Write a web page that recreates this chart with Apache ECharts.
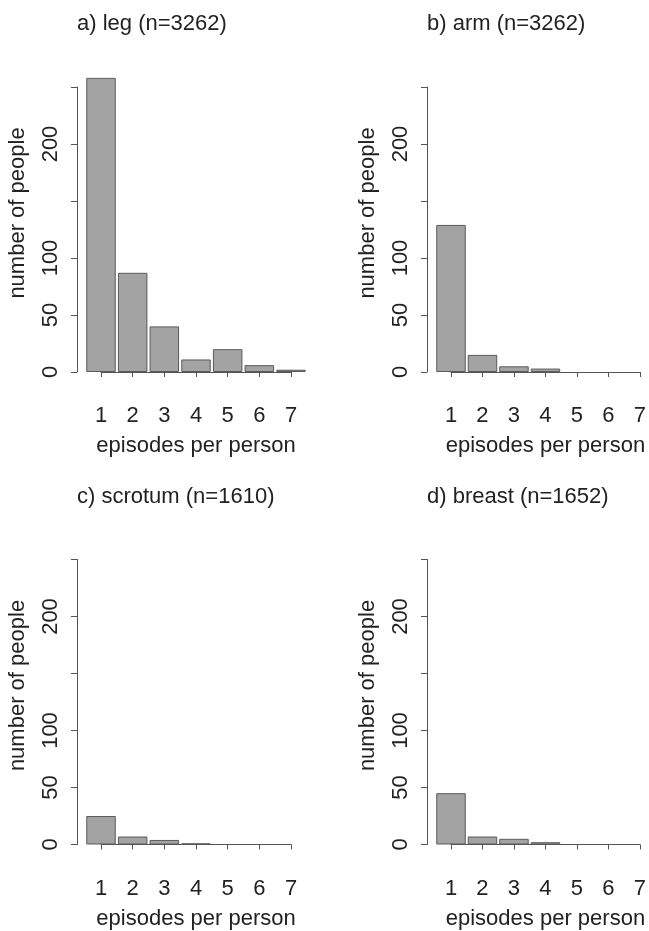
<!DOCTYPE html>
<html>
<head>
<meta charset="utf-8">
<script src="https://cdn.jsdelivr.net/npm/echarts@6/dist/echarts.min.js"></script>
<style>
html,body{margin:0;padding:0;background:#fff;}
#c{width:649px;height:931px;}
</style>
</head>
<body>
<div id="c"></div>
<script>
// ---- data ----
var episodes = [1, 2, 3, 4, 5, 6, 7];
var legCounts = [258, 87, 40, 11, 20, 6, 2];
var armCounts = [129, 15, 5, 3, 0, 0, 0];
var scrotumCounts = [25, 7, 4, 1, 0, 0, 0];
var breastCounts = [45, 7, 5, 2, 0, 0, 0];
var panelTitles = ['a) leg (n=3262)', 'b) arm (n=3262)', 'c) scrotum (n=1610)', 'd) breast (n=1652)'];
var yTickValues = [0, 50, 100, 150, 200, 250];
var yTickLabels = ['0', '50', '100', '', '200', ''];
var xTickLabels = ['1', '2', '3', '4', '5', '6', '7'];

var panelData = [legCounts, armCounts, scrotumCounts, breastCounts];

// ---- layout ----
var FONT = 'Liberation Sans, Arial, Helvetica, sans-serif';
var TXT = '#222';
var AX = '#555';
var gridLefts = [101, 451, 101, 451];
var gridTops = [87, 87, 559.5, 559.5];
var gridW = 190, gridH = 285;

var grids = [], xAxes = [], yAxes = [], series = [], titles = [];
for (var i = 0; i < 4; i++) {
  grids.push({left: gridLefts[i], top: gridTops[i], width: gridW, height: gridH, containLabel: false});
  titles.push({
    text: panelTitles[i], left: gridLefts[i] - 24, top: gridTops[i] - 74,
    padding: 0,
    textStyle: {fontFamily: FONT, fontSize: 22, fontWeight: 'normal', color: TXT, lineHeight: 22}
  });
  xAxes.push({
    gridIndex: i, type: 'value', min: 1, max: 7, interval: 1,
    offset: 14,
    name: 'episodes per person', nameLocation: 'middle', nameGap: 49,
    nameTextStyle: {fontFamily: FONT, fontSize: 22, color: TXT},
    axisLine: {show: true, lineStyle: {color: AX, width: 1}},
    axisTick: {show: true, length: 5, lineStyle: {color: AX}},
    axisLabel: {fontFamily: FONT, fontSize: 22, color: TXT, margin: 19,
      formatter: function (v) { var k = episodes.indexOf(v); return k >= 0 ? xTickLabels[k] : ''; }},
    splitLine: {show: false}
  });
  yAxes.push({
    gridIndex: i, type: 'value', min: 0, max: 250, interval: 50,
    offset: 24,
    name: 'number of people', nameLocation: 'middle', nameGap: 48, nameRotate: 90,
    nameTextStyle: {fontFamily: FONT, fontSize: 22, color: TXT, padding: [0, 0, 0, 33]},
    axisLine: {show: true, lineStyle: {color: AX, width: 1}},
    axisTick: {show: true, length: 6, lineStyle: {color: AX}},
    axisLabel: {fontFamily: FONT, fontSize: 22, color: TXT, margin: 15, rotate: 90,
      showMinLabel: true, showMaxLabel: true,
      formatter: function (v) { var k = yTickValues.indexOf(v); return k >= 0 ? yTickLabels[k] : ''; }},
    splitLine: {show: false}
  });
  var d = panelData[i];
  series.push({
    type: 'bar', xAxisIndex: i, yAxisIndex: i, clip: false,
    barWidth: 29.5,
    // zero counts draw no bar at all, as in the reference
    data: episodes.map(function (e, k) { return d[k] > 0 ? [e, d[k]] : [e, '-']; }),
    itemStyle: {color: '#a3a3a3', borderColor: '#5a5a5a', borderWidth: 1},
    silent: true
  });
}

var chart = echarts.init(document.getElementById('c'), null, {renderer: 'canvas'});
chart.setOption({
  animation: false,
  backgroundColor: '#ffffff',
  title: titles,
  grid: grids,
  xAxis: xAxes,
  yAxis: yAxes,
  series: series
});
</script>
</body>
</html>
